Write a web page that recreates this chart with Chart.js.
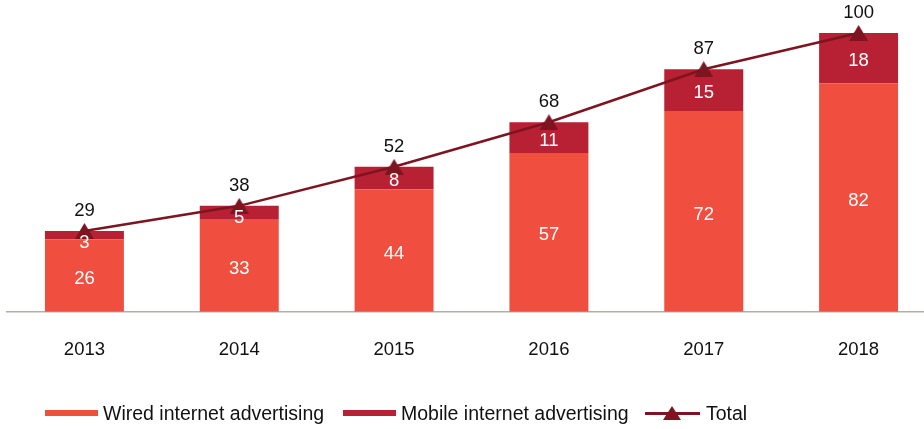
<!DOCTYPE html>
<html>
<head>
<meta charset="utf-8">
<script src="https://cdn.jsdelivr.net/npm/chart.js@4/dist/chart.umd.min.js"></script>
<style>
  html, body { margin: 0; padding: 0; background: #fff; overflow: hidden; }
  #wrap { position: relative; width: 936px; height: 429px; }
  #legend {
    position: absolute; left: 0; top: 402px; width: 924px; height: 22px;
    font-family: "Liberation Sans", Arial, sans-serif; font-size: 19.5px; color: #111;
  }
  .item { position: absolute; top: 0; height: 22px; display: flex; align-items: center; white-space: nowrap; }
  .sw { width: 53px; height: 6px; margin-right: 5px; }
  .tot { position: relative; width: 55px; height: 18px; margin-right: 6px; }
  .tot .ln { position: absolute; left: 0; right: 0; top: 8px; height: 3px; background: #7D1420; }
  .tot .tri { position: absolute; left: 18px; top: 2px; width: 0; height: 0;
    border-left: 9px solid transparent; border-right: 9px solid transparent; border-bottom: 14px solid #7D1420; }
</style>
</head>
<body>
<div id="wrap">
  <canvas id="c" width="936" height="429"></canvas>
  <div id="legend">
    <div class="item" style="left:45px"><div class="sw" style="background:#F04E3F"></div>Wired internet advertising</div>
    <div class="item" style="left:343px"><div class="sw" style="background:#B82034"></div>Mobile internet advertising</div>
    <div class="item" style="left:645px"><div class="tot"><div class="ln"></div><div class="tri"></div></div>Total</div>
  </div>
</div>
<script>
const years = ['2013', '2014', '2015', '2016', '2017', '2018'];
const wired = [26, 33, 44, 57, 72, 82];
const mobile = [3, 5, 8, 11, 15, 18];
const total = [29, 38, 52, 68, 87, 100];

const FONT = '"Liberation Sans", Arial, sans-serif';
const LINE_COLOR = '#7D1420';

// Triangle marker for the total line, centred on each point
function triangleMarker(w, h, color) {
  const cv = document.createElement('canvas');
  cv.width = w;
  cv.height = h;
  const g = cv.getContext('2d');
  g.fillStyle = color;
  g.beginPath();
  g.moveTo(w / 2, 0);
  g.lineTo(w, h);
  g.lineTo(0, h);
  g.closePath();
  g.fill();
  return cv;
}

// Writes segment values inside the bars and totals above the line markers
const valueLabels = {
  id: 'valueLabels',
  afterDatasetsDraw(chart) {
    const ctx = chart.ctx;
    ctx.save();
    ctx.font = '18.5px ' + FONT;
    ctx.textAlign = 'center';
    ctx.textBaseline = 'middle';
    chart.data.datasets.forEach((ds, i) => {
      const meta = chart.getDatasetMeta(i);
      meta.data.forEach((el, j) => {
        const v = ds.data[j];
        if (ds.type === 'line') {
          ctx.fillStyle = '#111';
          ctx.fillText(String(v), el.x, el.y - 20);
        } else {
          // short segments keep their label clear of the top edge
          const y = Math.max((el.y + el.base) / 2 + 3, el.y + 12);
          ctx.fillStyle = '#fff';
          ctx.fillText(String(v), el.x, y);
        }
      });
    });
    ctx.restore();
  }
};

new Chart(document.getElementById('c'), {
  data: {
    labels: years,
    datasets: [
      {
        type: 'line',
        label: 'Total',
        data: total,
        stack: 'total',
        order: 0,
        borderColor: LINE_COLOR,
        backgroundColor: LINE_COLOR,
        borderWidth: 2.5,
        pointStyle: triangleMarker(19, 16, LINE_COLOR),
        pointRadius: 10,
        pointHoverRadius: 10,
        tension: 0,
        clip: false
      },
      {
        type: 'bar',
        label: 'Wired internet advertising',
        data: wired,
        stack: 'ads',
        order: 1,
        backgroundColor: '#F04E3F',
        borderWidth: 0,
        categoryPercentage: 1,
        barPercentage: 0.51
      },
      {
        type: 'bar',
        label: 'Mobile internet advertising',
        data: mobile,
        stack: 'ads',
        order: 1,
        backgroundColor: '#B82034',
        borderWidth: 0,
        categoryPercentage: 1,
        barPercentage: 0.51
      }
    ]
  },
  options: {
    responsive: false,
    animation: false,
    layout: { autoPadding: false, padding: { left: 7, right: 0, top: 33, bottom: 41 } },
    plugins: {
      legend: { display: false },
      tooltip: { enabled: false }
    },
    scales: {
      x: {
        stacked: true,
        offset: true,
        grid: { display: false, drawTicks: false },
        border: { display: true, color: '#B5ADA6', width: 1.5 },
        ticks: {
          padding: 27,
          color: '#111',
          font: { family: FONT, size: 18.5 }
        }
      },
      y: {
        stacked: true,
        display: false,
        min: 0,
        max: 100
      }
    }
  },
  plugins: [valueLabels]
});
</script>
</body>
</html>
